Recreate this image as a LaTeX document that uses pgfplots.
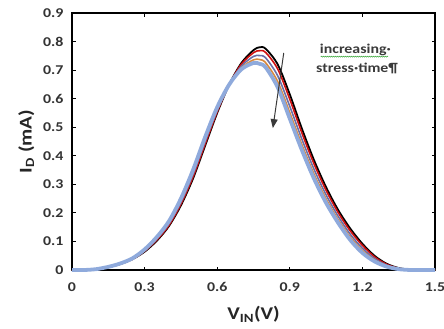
\documentclass[border=0pt]{standalone}
\usepackage{pgfplots}
\pgfplotsset{compat=1.18}
\usepackage{pgfplotstable}
\usepackage{fontspec}
\setmainfont{Carlito}[FakeStretch=1.18]
\usetikzlibrary{calc,arrows.meta,decorations.pathmorphing}
\definecolor{cblue}{HTML}{8FAADC}
\definecolor{corange}{HTML}{D9893E}
\definecolor{cpurple}{HTML}{6A6FA8}
\definecolor{cred}{HTML}{D01010}
\definecolor{txtgray}{HTML}{3A3A3A}
\pgfplotstableread{
V     black red   purple orange blue
0     0     0     0      0      0
0.05  0     0     0      0      0
0.1   0.003 0.003 0.003  0.003  0.003
0.15  0.010 0.010 0.010  0.010  0.011
0.2   0.021 0.021 0.022  0.022  0.023
0.25  0.038 0.038 0.039  0.040  0.041
0.3   0.064 0.066 0.068  0.070  0.072
0.35  0.102 0.105 0.109  0.112  0.115
0.4   0.153 0.156 0.162  0.166  0.170
0.45  0.226 0.231 0.238  0.244  0.250
0.5   0.320 0.326 0.335  0.343  0.350
0.55  0.435 0.441 0.450  0.458  0.465
0.6   0.550 0.554 0.560  0.565  0.570
0.65  0.650 0.650 0.650  0.650  0.650
0.7   0.725 0.721 0.714  0.708  0.703
0.75  0.770 0.761 0.748  0.736  0.725
0.775 0.780 0.768 0.751  0.737  0.722
0.8   0.775 0.762 0.743  0.726  0.710
0.85  0.720 0.704 0.680  0.660  0.640
0.9   0.615 0.598 0.573  0.551  0.530
0.95  0.495 0.480 0.458  0.439  0.420
1.0   0.385 0.372 0.353  0.336  0.320
1.05  0.290 0.279 0.263  0.249  0.235
1.1   0.210 0.201 0.188  0.176  0.165
1.15  0.145 0.137 0.125  0.115  0.105
1.2   0.092 0.086 0.076  0.068  0.060
1.25  0.050 0.046 0.040  0.035  0.030
1.3   0.022 0.020 0.017  0.015  0.012
1.35  0.007 0.006 0.005  0.004  0.003
1.4   0.001 0.001 0.0005 0      0
1.45  0     0     0      0      0
1.5   0     0     0      0      0
}\datatable
\begin{document}
\begin{tikzpicture}
\begin{axis}[
  scale only axis,
  width=363bp, height=257bp,
  xmin=0, xmax=1.5, ymin=0, ymax=0.9,
  xtick={0,0.3,0.6,0.9,1.2,1.5},
  ytick={0,0.1,0.2,0.3,0.4,0.5,0.6,0.7,0.8,0.9},
  xticklabels={0,0.3,0.6,0.9,1.2,1.5},
  yticklabels={0,0.1,0.2,0.3,0.4,0.5,0.6,0.7,0.8,0.9},
  tick align=inside,
  major tick length=3.5bp,
  tick style={black, line width=1.2bp},
  axis line style={black, line width=1.4bp},
  ticklabel style={font=\fontsize{13.5}{15}\selectfont\bfseries, text=black!80},
  xticklabel style={yshift=-9bp},
  yticklabel style={xshift=-5bp},
  xlabel={V\textsubscript{IN}(V)},
  ylabel={I\textsubscript{D} (mA)},
  label style={font=\fontsize{18}{20}\selectfont\bfseries, text=black!85},
  xlabel style={yshift=-8bp},
  ylabel style={yshift=2bp},
  clip=false,
]
\addplot[black, line width=1.8bp, smooth] table[x=V, y=black] {\datatable};
\addplot[cred, line width=1.6bp, smooth] table[x=V, y=red] {\datatable};
\addplot[cpurple, line width=1.6bp, smooth] table[x=V, y=purple] {\datatable};
\addplot[corange, line width=1.6bp, smooth] table[x=V, y=orange] {\datatable};
\addplot[cblue, line width=3.8bp, smooth] table[x=V, y=blue] {\datatable};
\draw[txtgray, line width=1bp, -{Triangle[length=9bp,width=7bp]}] (axis cs:0.875,0.76) -- (axis cs:0.83,0.497);
\node[font=\fontsize{13.5}{15}\selectfont\bfseries, text=txtgray, inner sep=0pt] (inc) at (axis cs:1.171,0.77) {increasing·};
\draw[green!55!black!75, line width=0.5bp, decorate, decoration={snake, amplitude=0.5bp, segment length=2bp}] ($(inc.south west)+(1bp,-0.5bp)$) -- ($(inc.south east)+(-3bp,-0.5bp)$);
\node[font=\fontsize{13.5}{15}\selectfont\bfseries, text=txtgray, inner sep=0pt] at (axis cs:1.178,0.707) {stress·time¶};
\end{axis}
\pgfresetboundingbox
\useasboundingbox ($(current axis.south west)+(-72bp,-59bp)$) rectangle ($(current axis.north east)+(9bp,13bp)$);
\end{tikzpicture}
\end{document}
